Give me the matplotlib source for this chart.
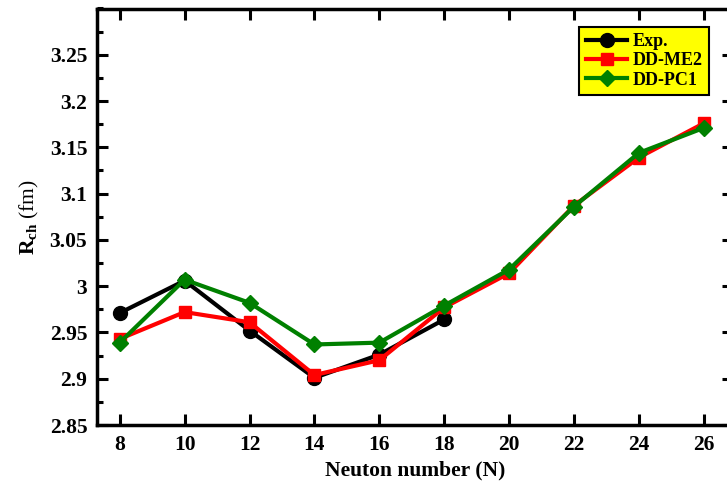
import matplotlib
matplotlib.use("Agg")
from matplotlib import pyplot as plt
from matplotlib.ticker import MultipleLocator

# Neutron numbers and charge radii (fm)
n_exp = [8, 10, 12, 14, 16, 18]
r_exp = [2.971, 3.006, 2.952, 2.901, 2.926, 2.964]

n_th = [8, 10, 12, 14, 16, 18, 20, 22, 24, 26]
r_ddme2 = [2.943, 2.972, 2.961, 2.904, 2.920, 2.977, 3.014, 3.087, 3.139, 3.176]
r_ddpc1 = [2.939, 3.007, 2.982, 2.937, 2.939, 2.979, 3.018, 3.086, 3.144, 3.171]

xticks = [8, 10, 12, 14, 16, 18, 20, 22, 24, 26]
yticks = [2.85, 2.9, 2.95, 3.0, 3.05, 3.1, 3.15, 3.2, 3.25]
ytick_labels = ["2.85", "2.9", "2.95", "3", "3.05", "3.1", "3.15", "3.2", "3.25"]

plt.rcParams["font.family"] = ["Liberation Serif", "DejaVu Serif"]
plt.rcParams["mathtext.fontset"] = "custom"
plt.rcParams["mathtext.rm"] = "Liberation Serif"
plt.rcParams["mathtext.bf"] = "Liberation Serif:bold"

fig = plt.figure(figsize=(7.27, 4.86), dpi=100)
ax = fig.add_axes([97 / 727, 1 - 425 / 486, 636 / 727, 416.5 / 486])

ax.plot(n_exp, r_exp, color="black", lw=3, marker="o", ms=10, label="Exp.", zorder=3)
ax.plot(n_th, r_ddme2, color="red", lw=3, marker="s", ms=9, label="DD-ME2", zorder=4)
ax.plot(n_th, r_ddpc1, color="green", lw=3, marker="D", ms=8, label="DD-PC1", zorder=5)

ax.set_xlim(7.3, 26.9)
ax.set_ylim(2.85, 3.3)
ax.set_xticks(xticks)
ax.set_yticks(yticks)
ax.set_yticklabels(ytick_labels)
ax.yaxis.set_minor_locator(MultipleLocator(0.025))

ax.tick_params(which="both", direction="in", top=True, right=True, width=2.2)
ax.tick_params(which="major", length=8, labelsize=15.5, pad=7)
ax.tick_params(which="minor", length=4)
for lab in ax.get_xticklabels() + ax.get_yticklabels():
    lab.set_fontweight("bold")
for sp in ax.spines.values():
    sp.set_linewidth(2.5)

ax.set_xlabel("Neuton number (N)", fontsize=15.5, fontweight="bold", labelpad=4)
ax.set_ylabel(r"$\mathbf{R_{ch}}$ (fm)", fontsize=15.5, labelpad=6)

leg = ax.legend(loc="upper right", bbox_to_anchor=(709 / 727, 1 - 27 / 486),
                bbox_transform=fig.transFigure, borderaxespad=0,
                prop={"weight": "bold", "size": 13}, fancybox=False,
                handlelength=2.3, handletextpad=0.3, labelspacing=0.12,
                borderpad=0.35, framealpha=1)
leg.get_frame().set_facecolor("yellow")
leg.get_frame().set_edgecolor("black")
leg.get_frame().set_linewidth(1.5)

fig.savefig("out.png", dpi=100)
